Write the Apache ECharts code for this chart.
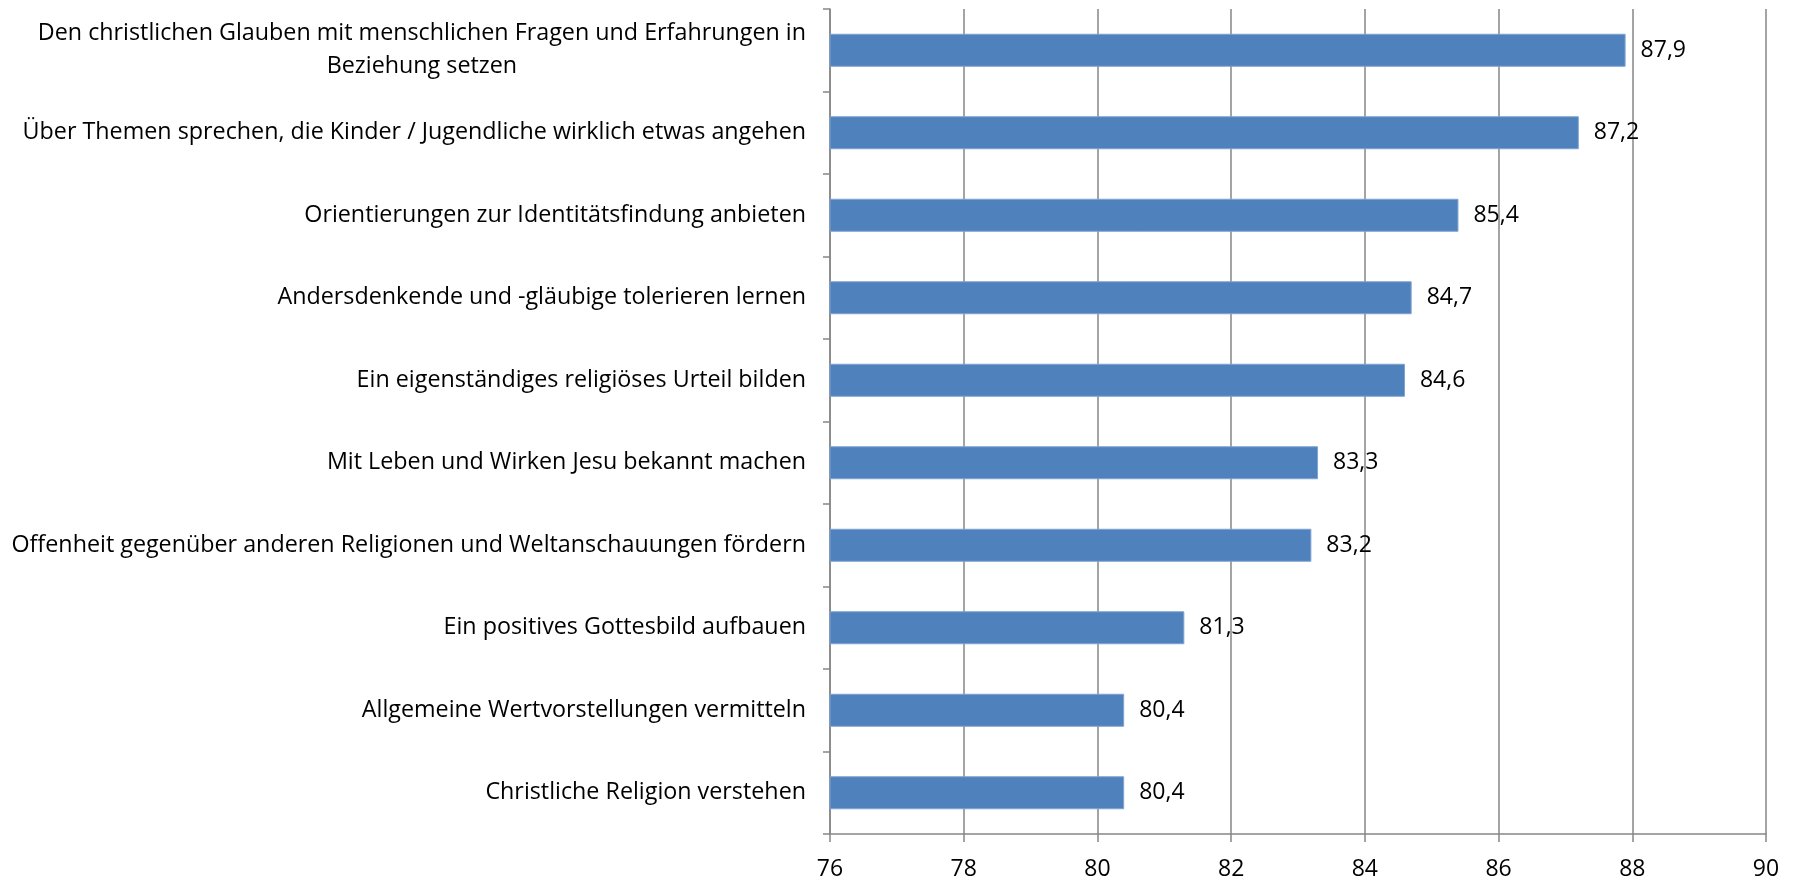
<!DOCTYPE html>
<html>
<head>
<meta charset="utf-8">
<script src="https://cdn.jsdelivr.net/npm/echarts@6/dist/echarts.min.js"></script>
<style>
html,body{margin:0;padding:0;background:#fff;}
#chart{width:1799px;height:881px;}
</style>
</head>
<body>
<div id="chart"></div>
<script>
const categories = [
  "Den christlichen Glauben mit menschlichen Fragen und Erfahrungen in\nBeziehung setzen",
  "Über Themen sprechen, die Kinder / Jugendliche wirklich etwas angehen",
  "Orientierungen zur Identitätsfindung anbieten",
  "Andersdenkende und -gläubige tolerieren lernen",
  "Ein eigenständiges religiöses Urteil bilden",
  "Mit Leben und Wirken Jesu bekannt machen",
  "Offenheit gegenüber anderen Religionen und Weltanschauungen fördern",
  "Ein positives Gottesbild aufbauen",
  "Allgemeine Wertvorstellungen vermitteln",
  "Christliche Religion verstehen"
];
const values = [87.9, 87.2, 85.4, 84.7, 84.6, 83.3, 83.2, 81.3, 80.4, 80.4];
const xMin = 76, xMax = 90, xStep = 2;

const FONT = "Open Sans";
const chart = echarts.init(document.getElementById('chart'), null, {renderer: 'canvas'});
chart.setOption({
  animation: false,
  backgroundColor: '#ffffff',
  grid: {left: 830, right: 33, top: 9, bottom: 45, containLabel: false},
  xAxis: {
    type: 'value', min: xMin, max: xMax, interval: xStep,
    axisLine: {show: true, lineStyle: {color: '#868686', width: 1.5}},
    axisTick: {show: true, length: 8, lineStyle: {color: '#868686', width: 1.5}},
    axisLabel: {color: '#000', fontFamily: FONT, fontSize: 23, margin: 24},
    splitLine: {show: true, lineStyle: {color: '#868686', width: 1.5}}
  },
  yAxis: {
    type: 'category', data: categories, inverse: true,
    axisLine: {show: true, lineStyle: {color: '#868686', width: 1.5}},
    axisTick: {show: true, length: 7, alignWithLabel: false, lineStyle: {color: '#868686', width: 1.5}},
    axisLabel: {
      color: '#000', fontFamily: FONT, fontSize: 23.3, margin: 24, lineHeight: 33,
      formatter: function (v) {
        return v.split('\n').map(function (s) { return '{c|' + s + '}'; }).join('\n');
      },
      rich: {c: {align: 'center', fontFamily: FONT, fontSize: 23.3, color: '#000', lineHeight: 33}}
    },
    splitLine: {show: false}
  },
  series: [{
    type: 'bar', data: values, barWidth: 33,
    itemStyle: {color: '#4F81BD', borderColor: '#7FA3D1', borderWidth: 1},
    label: {
      show: true, position: 'right', distance: 15, color: '#000',
      fontFamily: FONT, fontSize: 23,
      formatter: function (p) { return String(p.value.toFixed(1)).replace('.', ','); }
    }
  }]
});
</script>
</body>
</html>
